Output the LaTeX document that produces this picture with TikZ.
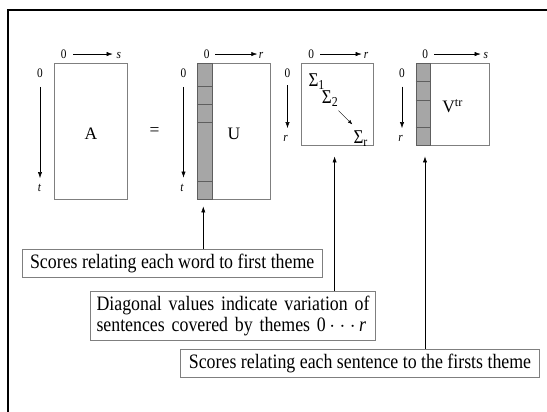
\documentclass[tikz,border=0pt]{standalone}
\usepackage{fontspec}
\setmainfont{Liberation Serif}
\newfontfamily\narrow{Liberation Serif}[FakeStretch=0.87]
\usetikzlibrary{arrows.meta}
\definecolor{edgegray}{HTML}{7F7F7F}
\definecolor{stripfill}{HTML}{A6A6A6}
\definecolor{stripedge}{HTML}{5E5E5E}
\begin{document}
\begin{tikzpicture}[x=1pt,y=-1pt,
  mat/.style={draw=edgegray,line width=0.8pt,rectangle,inner sep=0pt,text height=16.5pt,text depth=0pt,font=\fontsize{17.5}{20}\selectfont},
  strip/.style={draw=stripedge,fill=stripfill,line width=0.8pt,rectangle,inner sep=0pt},
  divider/.style={draw=stripedge,line width=0.8pt},
  lbl/.style={font=\narrow\fontsize{13}{15}\selectfont,inner sep=0pt,anchor=base},
  arr/.style={-{Latex[length=6pt,width=4.2pt]},line width=0.5pt},
  note/.style={draw=edgegray,line width=0.8pt,rectangle,inner sep=0pt,font=\narrow\fontsize{20.5}{21.7}\selectfont},
  sig/.style={font=\narrow\fontsize{19.5}{20}\selectfont,inner sep=0pt,anchor=base west}]
\useasboundingbox (0,0) rectangle (547,412);
% frame
\draw[line width=2pt] (8.3,412) -- (8.3,10) -- (547,10);

% matrices
\node[mat,minimum width=72.8pt,minimum height=136pt] (A) at (90.9,131.5) {A};
\node[font=\fontsize{17.5}{20}\selectfont,inner sep=0pt] (eq) at (154.5,131.2) {=};
\node[mat,minimum width=73.4pt,minimum height=136pt] (U) at (234,131.5) {U};
\node[strip,minimum width=15.2pt,minimum height=136pt] (ustrip) at (204.9,131.5) {};
\foreach \d in {23,41,59.2,118.2}
  \draw[divider] ([yshift=-\d pt]ustrip.north west) -- ([yshift=-\d pt]ustrip.north east);
\node[mat,minimum width=72pt,minimum height=81.7pt] (S) at (337.6,104.4) {};
\node[mat,minimum width=73.3pt,minimum height=81.7pt] (V) at (452.65,104.4) {V\textsuperscript{tr}};
\node[strip,minimum width=14pt,minimum height=81.7pt] (vstrip) at (423,104.4) {};
\foreach \d in {18.2,37.2,64}
  \draw[divider] ([yshift=-\d pt]vstrip.north west) -- ([yshift=-\d pt]vstrip.north east);

% sigma entries
\node[sig] (s1) at (308.3,86.7) {Σ\textsubscript{1}};
\node[sig] (s2) at (321.7,103.3) {Σ\textsubscript{2}};
\node[sig] (sr) at (353.3,143.3) {Σ\textsubscript{r}};
\draw[-{Latex[length=4.5pt,width=3.5pt]},line width=0.4pt] ([shift={(0,4)}]s2.south east) -- ([shift={(-1,-6)}]sr.north west);

% top axes
\node[lbl] (h0A) at (63.7,58.3) {0};
\node[lbl] (hsA) at (118.8,58.3) {\textit{s}};
\draw[arr,shorten <=9.6pt,shorten >=6.1pt] (h0A.center) -- (h0A.center -| hsA.center);
\node[lbl] (h0U) at (206.7,58.3) {0};
\node[lbl] (hrU) at (261.2,58.3) {\textit{r}};
\draw[arr,shorten <=8.6pt,shorten >=3.9pt] (h0U.center) -- (h0U.center -| hrU.center);
\node[lbl] (h0S) at (311.2,58.3) {0};
\node[lbl] (hrS) at (366.2,58.3) {\textit{r}};
\draw[arr,shorten <=8.8pt,shorten >=4.5pt] (h0S.center) -- (h0S.center -| hrS.center);
\node[lbl] (h0V) at (425.3,58.3) {0};
\node[lbl] (hsV) at (485.8,58.3) {\textit{s}};
\draw[arr,shorten <=8.7pt,shorten >=5.1pt] (h0V.center) -- (h0V.center -| hsV.center);

% left axes
\node[lbl] (v0A) at (40,77.3) {0};
\node[lbl] (vtA) at (39.5,191.7) {\textit{t}};
\draw[arr,shorten <=13.8pt,shorten >=10pt] (v0A.center) -- (v0A.center |- vtA.center);
\node[lbl] (v0U) at (183.5,77.3) {0};
\node[lbl] (vtU) at (182,191.7) {\textit{t}};
\draw[arr,shorten <=13.8pt,shorten >=10.5pt] (v0U.center) -- (v0U.center |- vtU.center);
\node[lbl] (v0S) at (287.5,77.3) {0};
\node[lbl] (vrS) at (285.5,141.7) {\textit{r}};
\draw[arr,shorten <=12.1pt,shorten >=10.5pt] (v0S.center) -- (v0S.center |- vrS.center);
\node[lbl] (v0V) at (402,77.3) {0};
\node[lbl] (vrV) at (400.5,141.7) {\textit{r}};
\draw[arr,shorten <=13.5pt,shorten >=10.5pt] (v0V.center) -- (v0V.center |- vrV.center);

% notes
\node[note,minimum width=300.3pt,minimum height=27.5pt] (n1) at (172.2,263.3) {Scores relating each word to first theme};
\node[note,minimum width=285pt,minimum height=49.5pt,text width=273pt,align=left] (n2) at (233,316) {Diagonal values indicate variation of\\ sentences covered by themes 0\,$\cdot\cdot\cdot$\,\textit{r}};
\node[note,minimum width=359.3pt,minimum height=28pt] (n3) at (360,363.3) {Scores relating each sentence to the firsts theme};

% connectors
\coordinate (Ux) at ([xshift=-1.6pt]ustrip.south);
\coordinate (Sx) at ([xshift=-3pt]S.south);
\coordinate (Vx) at ([xshift=2pt]vstrip.south);
\draw[arr,shorten >=6.5pt] (n1.north -| Ux) -- (Ux);
\draw[arr,shorten >=10.8pt] (n2.north -| Sx) -- (Sx);
\draw[arr,shorten >=10.8pt] (n3.north -| Vx) -- (Vx);
\end{tikzpicture}
\end{document}
